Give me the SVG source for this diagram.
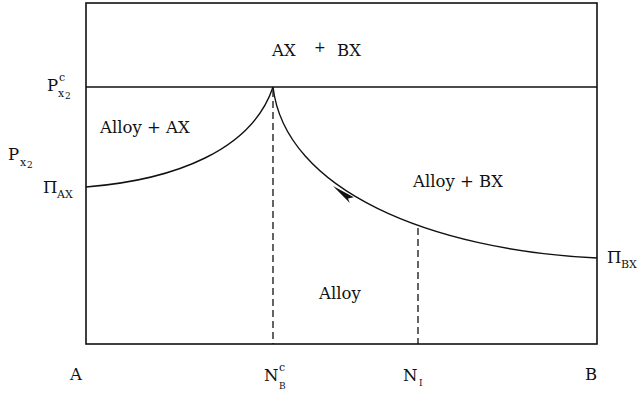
<svg xmlns="http://www.w3.org/2000/svg" width="641" height="394" viewBox="0 0 641 394">
<style>
text{fill:#111;font-family:'DejaVu Serif',serif;}
.lbl{font-size:16.5px;}
.sub{font-size:11px;}
.sm{font-size:9px;}
.frame{fill:none;stroke:#111;stroke-width:1.6;}
.curve{fill:none;stroke:#111;stroke-width:1.4;}
.dash{fill:none;stroke:#111;stroke-width:1.3;stroke-dasharray:7 4;}
</style>
<rect width="641" height="394" fill="#fff"/>
<g id="frame">
<rect class="frame" x="86" y="3" width="511" height="341"/>
<line class="frame" x1="86" y1="87" x2="597" y2="87"/>
</g>
<g id="connectors">
<path id="curve-ax" class="curve" d="M86,187 C175,180 252,150 273,87"/>
<path id="curve-bx" class="curve" d="M273,87 C285,190 430,250 597,258"/>
<line id="dash-nbc" class="dash" x1="273" y1="90" x2="273" y2="344"/>
<line id="dash-ni" class="dash" x1="418" y1="228" x2="418" y2="344"/>
<polygon id="arrow" points="333,186 353.8,197.2 348,198.5 349.8,203" fill="#111"/>
</g>
<g id="labels">
<g id="region-top"><text class="lbl" x="272" y="56">AX</text><text x="314" y="52" font-size="14">+</text><text class="lbl" x="337" y="56">BX</text></g>
<g id="region-alloy-ax"><text class="lbl" x="100" y="133">Alloy + AX</text></g>
<g id="region-alloy-bx"><text class="lbl" x="413" y="187">Alloy + BX</text></g>
<g id="region-alloy"><text class="lbl" x="319" y="299">Alloy</text></g>
<g id="label-pc"><text class="lbl" x="47" y="91">P</text><text class="sub" x="59" y="81">c</text><text class="sub" x="58" y="97">x</text><text class="sm" x="65" y="99">2</text></g>
<g id="label-px2"><text class="lbl" x="8" y="160">P</text><text class="sub" x="20" y="166">x</text><text class="sm" x="27" y="168">2</text></g>
<g id="label-piax"><text class="lbl" x="43" y="193">Π</text><text class="sub" x="57" y="198">AX</text></g>
<g id="label-pibx"><text class="lbl" x="607" y="263">Π</text><text class="sub" x="621" y="268">BX</text></g>
<g id="label-a"><text class="lbl" x="70" y="380">A</text></g>
<g id="label-nbc"><text class="lbl" x="264" y="381">N</text><text class="sub" x="279" y="371">c</text><text class="sm" x="279" y="389">B</text></g>
<g id="label-ni"><text class="lbl" x="403" y="381">N</text><text class="sm" x="419" y="386">I</text></g>
<g id="label-b"><text class="lbl" x="585" y="380">B</text></g>
</g>
</svg>
